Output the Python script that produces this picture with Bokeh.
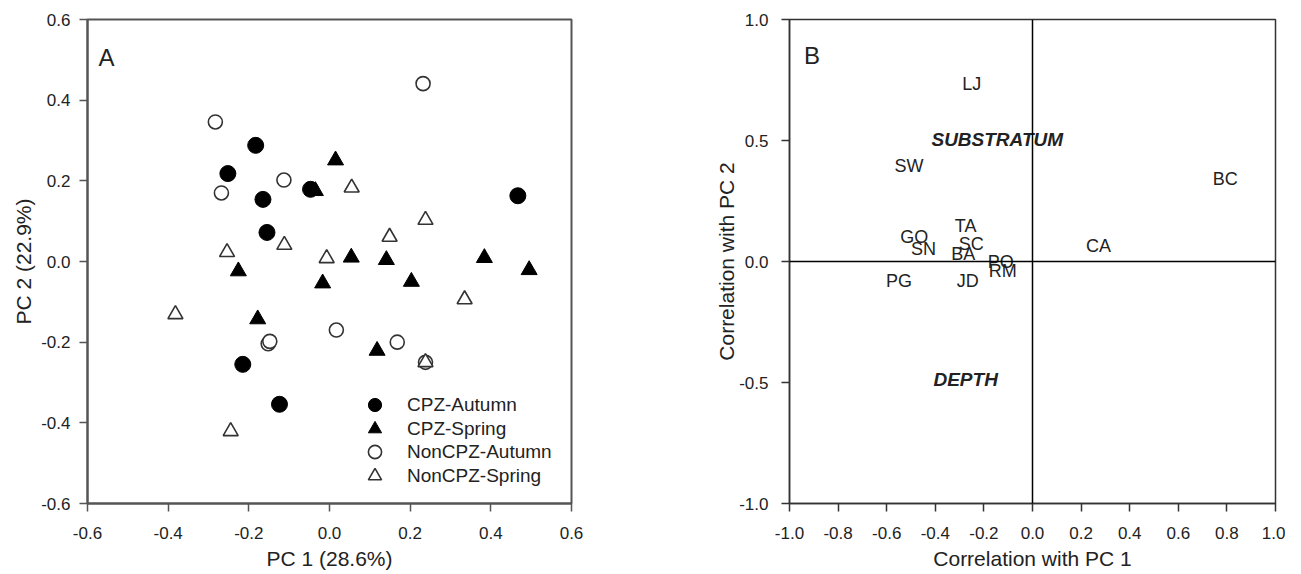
from bokeh.plotting import figure
from bokeh.layouts import row
from bokeh.models import (Range1d, FixedTicker, PrintfTickFormatter, Legend,
                          LegendItem, Span, Label)
from bokeh.core.properties import value
from bokeh.embed import file_html
from bokeh.resources import INLINE

# ---------------- Panel A data (PC scores) ----------------
cpz_autumn_x = [-0.183, -0.252, -0.047, -0.165, 0.467, -0.155, -0.215, -0.124]
cpz_autumn_y = [0.288, 0.218, 0.179, 0.154, 0.163, 0.072, -0.255, -0.354]

cpz_spring_x = [0.015, -0.035, 0.054, 0.141, 0.384, 0.495, -0.226, -0.017, 0.203, -0.178, 0.118]
cpz_spring_y = [0.251, 0.175, 0.010, 0.004, 0.009, -0.021, -0.024, -0.054, -0.050, -0.143, -0.221]

noncpz_autumn_x = [0.232, -0.283, -0.113, -0.268, 0.017, -0.152, -0.148, 0.168, 0.238]
noncpz_autumn_y = [0.441, 0.346, 0.202, 0.170, -0.170, -0.204, -0.198, -0.200, -0.250]

noncpz_spring_x = [0.055, 0.238, -0.112, 0.149, -0.254, -0.007, 0.335, -0.382, 0.238, -0.245]
noncpz_spring_y = [0.183, 0.103, 0.041, 0.061, 0.023, 0.008, -0.094, -0.131, -0.250, -0.421]

group_labels = ["CPZ-Autumn", "CPZ-Spring", "NonCPZ-Autumn", "NonCPZ-Spring"]

a_ticks = [-0.6, -0.4, -0.2, 0.0, 0.2, 0.4, 0.6]

# ---------------- Panel B data (correlations) ----------------
var_names = ["LJ", "SW", "BC", "TA", "GO", "SN", "SC", "BA", "CA", "PO", "RM", "PG", "JD"]
var_x = [-0.25, -0.508, 0.793, -0.275, -0.487, -0.449, -0.252, -0.285, 0.272, -0.131, -0.122, -0.549, -0.266]
var_y = [0.733, 0.396, 0.339, 0.147, 0.101, 0.051, 0.071, 0.030, 0.062, -0.004, -0.039, -0.080, -0.080]

factor_names = ["SUBSTRATUM", "DEPTH"]
factor_x = [-0.145, -0.275]
factor_y = [0.506, -0.488]

b_xticks = [-1.0, -0.8, -0.6, -0.4, -0.2, 0.0, 0.2, 0.4, 0.6, 0.8, 1.0]
b_yticks = [-1.0, -0.5, 0.0, 0.5, 1.0]

FONT = "Liberation Sans"
TXT = "#222222"


def style(p, xticks, yticks, color, lw, y_standoff, y_title_standoff):
    p.outline_line_color = color
    p.outline_line_width = lw
    p.xgrid.visible = False
    p.ygrid.visible = False
    for ax in (p.xaxis[0], p.yaxis[0]):
        ax.axis_line_color = color
        ax.axis_line_width = lw
        ax.major_tick_line_color = color
        ax.major_tick_line_width = 1.5
        ax.major_tick_out = 8
        ax.major_tick_in = 0
        ax.minor_tick_line_color = None
        ax.major_label_text_font = FONT
        ax.major_label_text_font_size = "17px"
        ax.major_label_text_color = TXT
        ax.axis_label_text_font = FONT
        ax.axis_label_text_font_size = "21px"
        ax.axis_label_text_font_style = "normal"
        ax.axis_label_text_color = TXT
        ax.formatter = PrintfTickFormatter(format="%.1f")
    p.xaxis[0].ticker = FixedTicker(ticks=xticks)
    p.yaxis[0].ticker = FixedTicker(ticks=yticks)
    p.xaxis[0].major_label_standoff = 15
    p.xaxis[0].axis_label_standoff = 5
    p.yaxis[0].major_label_standoff = y_standoff
    p.yaxis[0].axis_label_standoff = y_title_standoff


# ---------------- Panel A ----------------
pa = figure(width=608, height=572, output_backend="svg", toolbar_location=None,
            x_range=Range1d(-0.6, 0.6), y_range=Range1d(-0.6, 0.6),
            min_border_left=87, min_border_right=37, min_border_top=19,
            min_border_bottom=68, x_axis_label="PC 1 (28.6%)",
            y_axis_label="PC 2 (22.9%)")
style(pa, a_ticks, a_ticks, "#555555", 2, 9, 3)

r1 = pa.scatter(cpz_autumn_x, cpz_autumn_y, marker="circle", size=16,
                fill_color="black", line_color="black")
r2 = pa.scatter(cpz_spring_x, cpz_spring_y, marker="triangle", size=16,
                fill_color="black", line_color="black")
r3 = pa.scatter(noncpz_autumn_x, noncpz_autumn_y, marker="circle", size=14,
                fill_color="white", line_color="#333333", line_width=1.6)
r4 = pa.scatter(noncpz_spring_x, noncpz_spring_y, marker="triangle", size=15,
                fill_color="white", line_color="#333333", line_width=1.6)

# one single-item legend per row so that rows can sit closer than the glyph box
legend_rows_bottom = [82, 58, 35, 11]
for lbl, rend, yb in zip(group_labels, [r1, r2, r3, r4], legend_rows_bottom):
    lg = Legend(items=[LegendItem(label=lbl, renderers=[rend])],
                location=(271, yb), glyph_width=33, glyph_height=33,
                spacing=0, padding=0, margin=0, border_line_color=None,
                background_fill_alpha=0, label_standoff=16,
                label_text_font=FONT, label_text_font_size="19px",
                label_text_color=TXT, label_height=20)
    pa.add_layout(lg)

pa.add_layout(Label(x=-0.573, y=0.506, text="A", text_font=FONT,
                    text_font_size="24px", text_color=TXT,
                    text_baseline="alphabetic"))

# ---------------- Panel B ----------------
pb = figure(width=677, height=572, output_backend="svg", toolbar_location=None,
            x_range=Range1d(-1.0, 1.0), y_range=Range1d(-1.0, 1.0),
            min_border_left=181, min_border_right=10, min_border_top=19,
            min_border_bottom=68, x_axis_label="Correlation with PC 1",
            y_axis_label="Correlation with PC 2")
style(pb, b_xticks, b_yticks, "#333333", 1.5, 13, -2)

pb.add_layout(Span(location=0, dimension="height", line_color="black", line_width=1.5))
pb.add_layout(Span(location=0, dimension="width", line_color="black", line_width=1.5))

pb.text(x=var_x, y=var_y, text=var_names, text_font=value(FONT),
        text_font_size="18px", text_align="center", text_baseline="middle",
        text_color=TXT)
pb.text(x=factor_x, y=factor_y, text=factor_names, text_font=value(FONT),
        text_font_size="19px", text_font_style="bold italic",
        text_align="center", text_baseline="middle", text_color=TXT)

pb.add_layout(Label(x=-0.94, y=0.853, text="B", text_font=FONT,
                    text_font_size="24px", text_color=TXT,
                    text_baseline="alphabetic"))

layout = row(pa, pb)
open("out.html", "w").write(file_html(layout, INLINE))
